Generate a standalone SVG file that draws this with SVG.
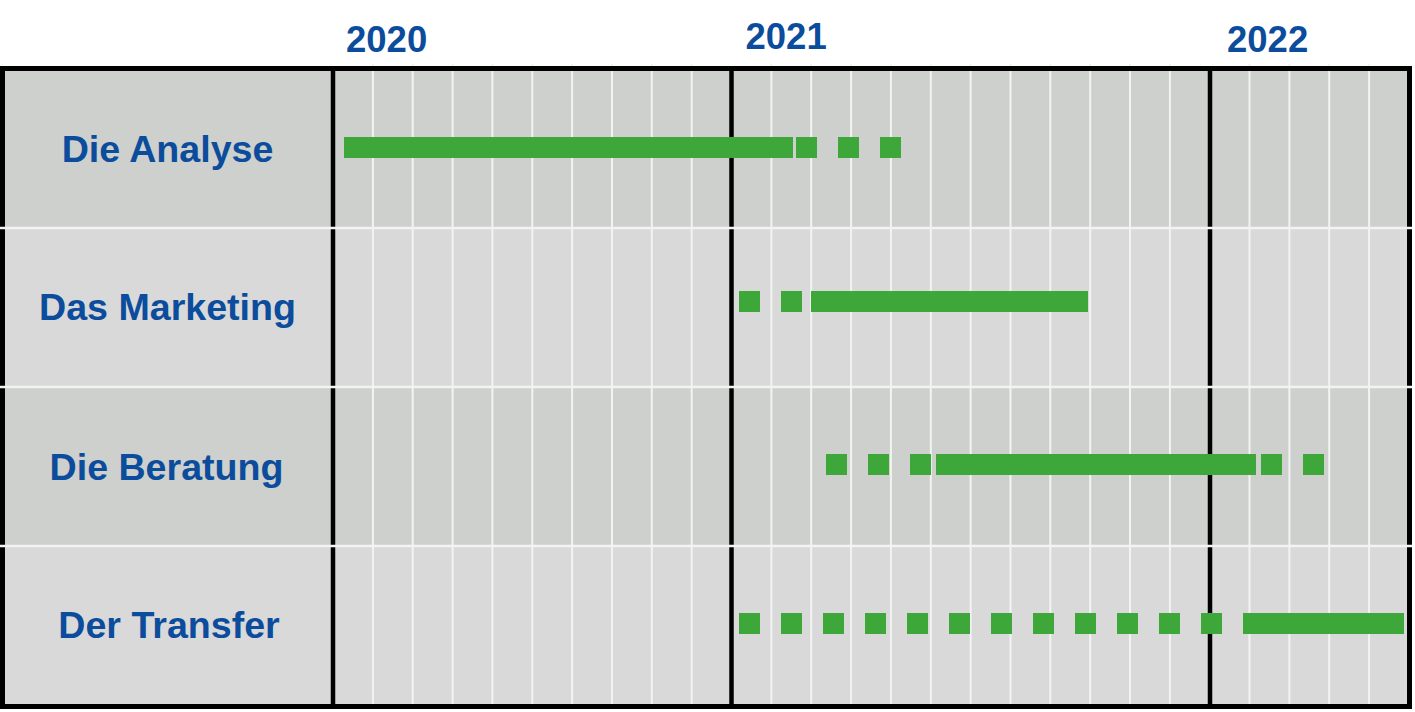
<svg xmlns="http://www.w3.org/2000/svg" width="1415" height="712" viewBox="0 0 1415 712">
<style>
.rowA{fill:#cdd0cd}
.rowB{fill:#d9d9d9}
.grid{stroke:#f3f3f3;stroke-width:2;fill:none}
.sep{stroke:#f3f3f3;stroke-width:2.5;fill:none}
.blk{stroke:#000;stroke-width:4.5;fill:none}
.bar{fill:#3ea73a}
.lbl{font-family:"Liberation Sans",Arial,sans-serif;font-weight:bold;font-size:37.6px;fill:#0b4c9c;text-anchor:middle}
.yr{font-family:"Liberation Sans",Arial,sans-serif;font-weight:bold;font-size:36.5px;fill:#0b4c9c}
</style>
<rect width="1415" height="712" fill="#fff"/>
<g id="backgrounds">
<rect class="rowA" x="3" y="69" width="1407" height="159"/>
<rect class="rowB" x="3" y="228" width="1407" height="159"/>
<rect class="rowA" x="3" y="387" width="1407" height="159"/>
<rect class="rowB" x="3" y="546" width="1407" height="160"/>
</g>
<g id="gridlines">
<path class="grid" d="M372.9 64V706M412.7 64V706M452.6 64V706M492.4 64V706M532.3 64V706M572.1 64V706M612 64V706M651.8 64V706M691.7 64V706M771.4 64V706M811.2 64V706M851.1 64V706M890.9 64V706M930.8 64V706M970.6 64V706M1010.5 64V706M1050.3 64V706M1090.2 64V706M1130 64V706M1169.9 64V706M1249.5 64V706M1289.4 64V706M1329.2 64V706M1369.1 64V706"/>
</g>
<g id="frame">
<path class="blk" d="M333 69V706M731.5 69V706M1210 69V706"/>
<rect x="2.5" y="68.5" width="1407" height="638" fill="none" stroke="#000" stroke-width="5"/>
</g>
<g id="separators">
<path class="sep" d="M0 228H1412M0 387H1412M0 546H1412"/>
</g>
<g id="years">
<text class="yr" x="346" y="51.5">2020</text>
<text class="yr" x="745.5" y="49">2021</text>
<text class="yr" x="1227" y="51.5">2022</text>
</g>
<g id="row-analyse">
<text class="lbl" x="167.5" y="161.5">Die Analyse</text>
<rect class="bar" x="344" y="137" width="449" height="21"/>
<rect class="bar" x="796" y="137" width="21" height="21"/>
<rect class="bar" x="838" y="137" width="21" height="21"/>
<rect class="bar" x="880" y="137" width="21" height="21"/>
</g>
<g id="row-marketing">
<text class="lbl" x="167.5" y="320">Das Marketing</text>
<rect class="bar" x="739" y="291" width="21" height="21"/>
<rect class="bar" x="781" y="291" width="21" height="21"/>
<rect class="bar" x="811" y="291" width="277" height="21"/>
</g>
<g id="row-beratung">
<text class="lbl" x="166.5" y="480">Die Beratung</text>
<rect class="bar" x="826" y="454" width="21" height="21"/>
<rect class="bar" x="868" y="454" width="21" height="21"/>
<rect class="bar" x="910" y="454" width="21" height="21"/>
<rect class="bar" x="936" y="454" width="320" height="21"/>
<rect class="bar" x="1261" y="454" width="21" height="21"/>
<rect class="bar" x="1303" y="454" width="21" height="21"/>
</g>
<g id="row-transfer">
<text class="lbl" x="169" y="638">Der Transfer</text>
<rect class="bar" x="739" y="613" width="21" height="21"/>
<rect class="bar" x="781" y="613" width="21" height="21"/>
<rect class="bar" x="823" y="613" width="21" height="21"/>
<rect class="bar" x="865" y="613" width="21" height="21"/>
<rect class="bar" x="907" y="613" width="21" height="21"/>
<rect class="bar" x="949" y="613" width="21" height="21"/>
<rect class="bar" x="991" y="613" width="21" height="21"/>
<rect class="bar" x="1033" y="613" width="21" height="21"/>
<rect class="bar" x="1075" y="613" width="21" height="21"/>
<rect class="bar" x="1117" y="613" width="21" height="21"/>
<rect class="bar" x="1159" y="613" width="21" height="21"/>
<rect class="bar" x="1201" y="613" width="21" height="21"/>
<rect class="bar" x="1243" y="613" width="161" height="21"/>
</g>
</svg>
